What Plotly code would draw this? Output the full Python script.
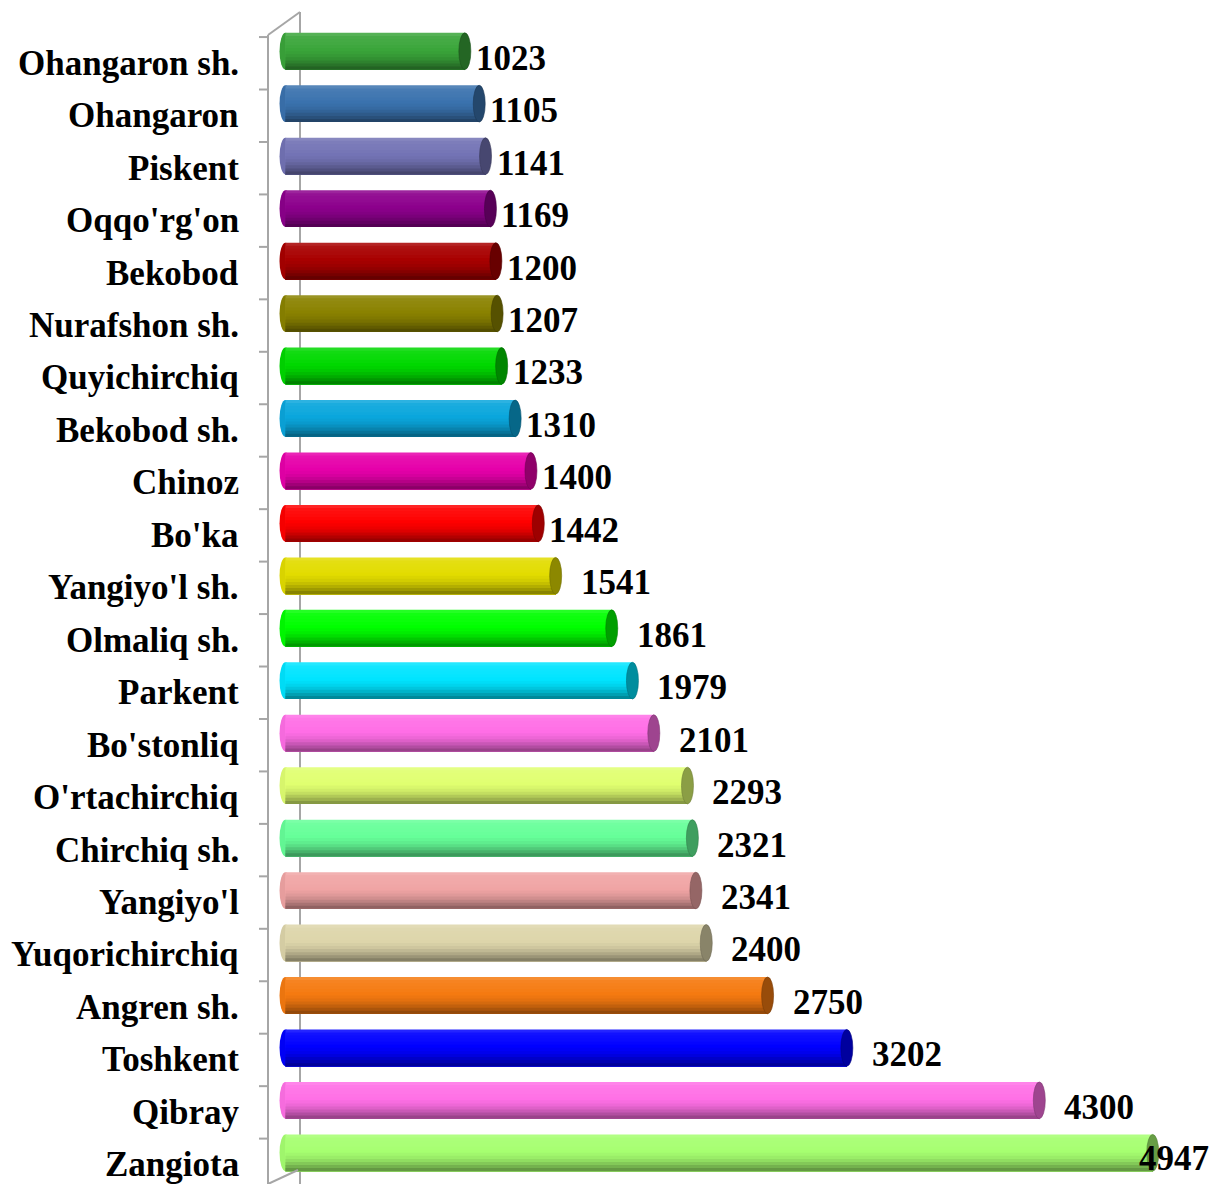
import plotly.graph_objects as go

# ---------------- data ----------------
categories = ["Ohangaron sh.", "Ohangaron", "Piskent", "Oqqo'rg'on", "Bekobod",
              "Nurafshon sh.", "Quyichirchiq", "Bekobod sh.", "Chinoz", "Bo'ka",
              "Yangiyo'l sh.", "Olmaliq sh.", "Parkent", "Bo'stonliq", "O'rtachirchiq",
              "Chirchiq sh.", "Yangiyo'l", "Yuqorichirchiq", "Angren sh.", "Toshkent",
              "Qibray", "Zangiota"]
values = [1023, 1105, 1141, 1169, 1200, 1207, 1233, 1310, 1400, 1442, 1541,
          1861, 1979, 2101, 2293, 2321, 2341, 2400, 2750, 3202, 4300, 4947]
bar_colors = ["#3aa53a", "#3a72ae", "#7373b5", "#8c008c", "#a80000", "#8a8200",
              "#00d800", "#0aa6dc", "#e600aa", "#ff0000", "#e2dc00", "#00ff00",
              "#00e4ff", "#ff6ee6", "#e0ff70", "#66ff99", "#f0a4a4", "#ddd5aa",
              "#f57a10", "#0000ff", "#ff70e6", "#a6ff70"]

# ---------------- geometry / style ----------------
W, H = 1215, 1184
ZERO_PX = 286          # pixel position of value 0
XMIN = -60             # small negative range so the rounded base end is not clipped
PX_PER_UNIT = 0.1753
ML = int(round(ZERO_PX + XMIN * PX_PER_UNIT))
MR, MT, MB = 0, 25, 5
PW = W - ML - MR
XMAX = XMIN + PW / PX_PER_UNIT
PH = H - MT - MB
BAR_W = 0.70
FONT = "Liberation Serif, Times New Roman, serif"
FS = 35


def hex2rgb(h):
    h = h.lstrip("#")
    return tuple(int(h[i:i + 2], 16) for i in (0, 2, 4))


def shade(h, f):
    r, g, b = hex2rgb(h)
    if f >= 0:
        r, g, b = (c + (255 - c) * f for c in (r, g, b))
    else:
        r, g, b = (c * (1 + f) for c in (r, g, b))
    return "rgb(%d,%d,%d)" % (round(r), round(g), round(b))


profile = [0.14, 0.07, 0.05, 0.04, 0.02, 0.0, -0.03, -0.07, -0.13, -0.21, -0.30, -0.40]
n = len(profile)
sw = BAR_W / n

fig = go.Figure()
for k, f in enumerate(profile):
    # each strip reaches the bar bottom, so the next one covers it -> no gaps
    fig.add_trace(go.Bar(
        x=values, y=categories, orientation="h",
        width=BAR_W - k * sw, offset=-BAR_W / 2 + k * sw,
        marker=dict(color=[shade(c, f) for c in bar_colors], line=dict(width=0)),
        hoverinfo="skip", showlegend=False,
    ))

cap_dx = 6 / PX_PER_UNIT


def px2paper_x(px):
    return (px - ML) / PW


def px2paper_y(py):
    return (H - MB - py) / PH


GRAY = "#a6a6a6"
shapes = []
shapes.append(dict(type="line", xref="paper", yref="paper", layer="below",
                   x0=px2paper_x(300), x1=px2paper_x(300), y0=px2paper_y(12), y1=px2paper_y(H + 5),
                   line=dict(color=GRAY, width=2)))
shapes.append(dict(type="line", xref="paper", yref="paper",
                   x0=px2paper_x(268), x1=px2paper_x(268), y0=px2paper_y(35), y1=px2paper_y(H + 5),
                   line=dict(color=GRAY, width=2)))
shapes.append(dict(type="line", xref="paper", yref="paper",
                   x0=px2paper_x(268), x1=px2paper_x(300), y0=px2paper_y(35), y1=px2paper_y(12),
                   line=dict(color=GRAY, width=2)))
shapes.append(dict(type="line", xref="paper", yref="paper",
                   x0=px2paper_x(268), x1=px2paper_x(298), y0=px2paper_y(1184), y1=px2paper_y(1170),
                   line=dict(color=GRAY, width=2)))
for i in range(len(categories)):
    shapes.append(dict(type="line", xref="paper", yref="y",
                       x0=px2paper_x(259), x1=px2paper_x(268), y0=i - 0.27, y1=i - 0.27,
                       line=dict(color=GRAY, width=2)))

for i, (v, c) in enumerate(zip(values, bar_colors)):
    shapes.append(dict(type="circle", xref="x", yref="y", layer="below",
                       x0=-cap_dx, x1=cap_dx, y0=i - BAR_W / 2, y1=i + BAR_W / 2,
                       fillcolor=shade(c, -0.04), line=dict(width=0)))
    shapes.append(dict(type="circle", xref="x", yref="y",
                       x0=v - cap_dx, x1=v + cap_dx, y0=i - BAR_W / 2, y1=i + BAR_W / 2,
                       fillcolor=shade(c, -0.38), line=dict(color=shade(c, -0.5), width=0.6)))

annotations = []
for i, name in enumerate(categories):
    annotations.append(dict(text="<b>%s</b>" % name, xref="paper", yref="y", x=0, y=i,
                            xanchor="right", yanchor="middle", xshift=241 - ML, yshift=-12,
                            showarrow=False, font=dict(family=FONT, size=FS, color="black")))

for i, v in enumerate(values):
    shift = 9 if v < 1500 else 23
    end_px = ZERO_PX + v * PX_PER_UNIT + shift + 70
    if end_px > W:
        annotations.append(dict(text="<b>%d</b>" % v, xref="paper", yref="y", x=1, y=i,
                                xanchor="right", yanchor="middle", xshift=-4, yshift=-6,
                                showarrow=False, font=dict(family=FONT, size=FS, color="black")))
    else:
        annotations.append(dict(text="<b>%d</b>" % v, xref="x", yref="y", x=v, y=i,
                                xanchor="left", yanchor="middle", xshift=shift, yshift=-7,
                                showarrow=False, font=dict(family=FONT, size=FS, color="black")))

fig.update_layout(
    width=W, height=H,
    margin=dict(l=ML, r=MR, t=MT, b=MB, pad=0),
    barmode="overlay",
    plot_bgcolor="white", paper_bgcolor="white",
    xaxis=dict(range=[XMIN, XMAX], autorange=False, visible=False, showgrid=False, zeroline=False),
    yaxis=dict(type="category", categoryorder="array", categoryarray=categories,
               range=[len(categories) - 0.5, -0.5], autorange=False,
               showticklabels=False, showgrid=False,
               zeroline=False, showline=False, ticks=""),
    shapes=shapes, annotations=annotations,
    showlegend=False,
)

fig.write_html("out.html", config={"displayModeBar": False},
               post_script="document.body.style.margin='0';document.body.style.overflow='hidden';")
